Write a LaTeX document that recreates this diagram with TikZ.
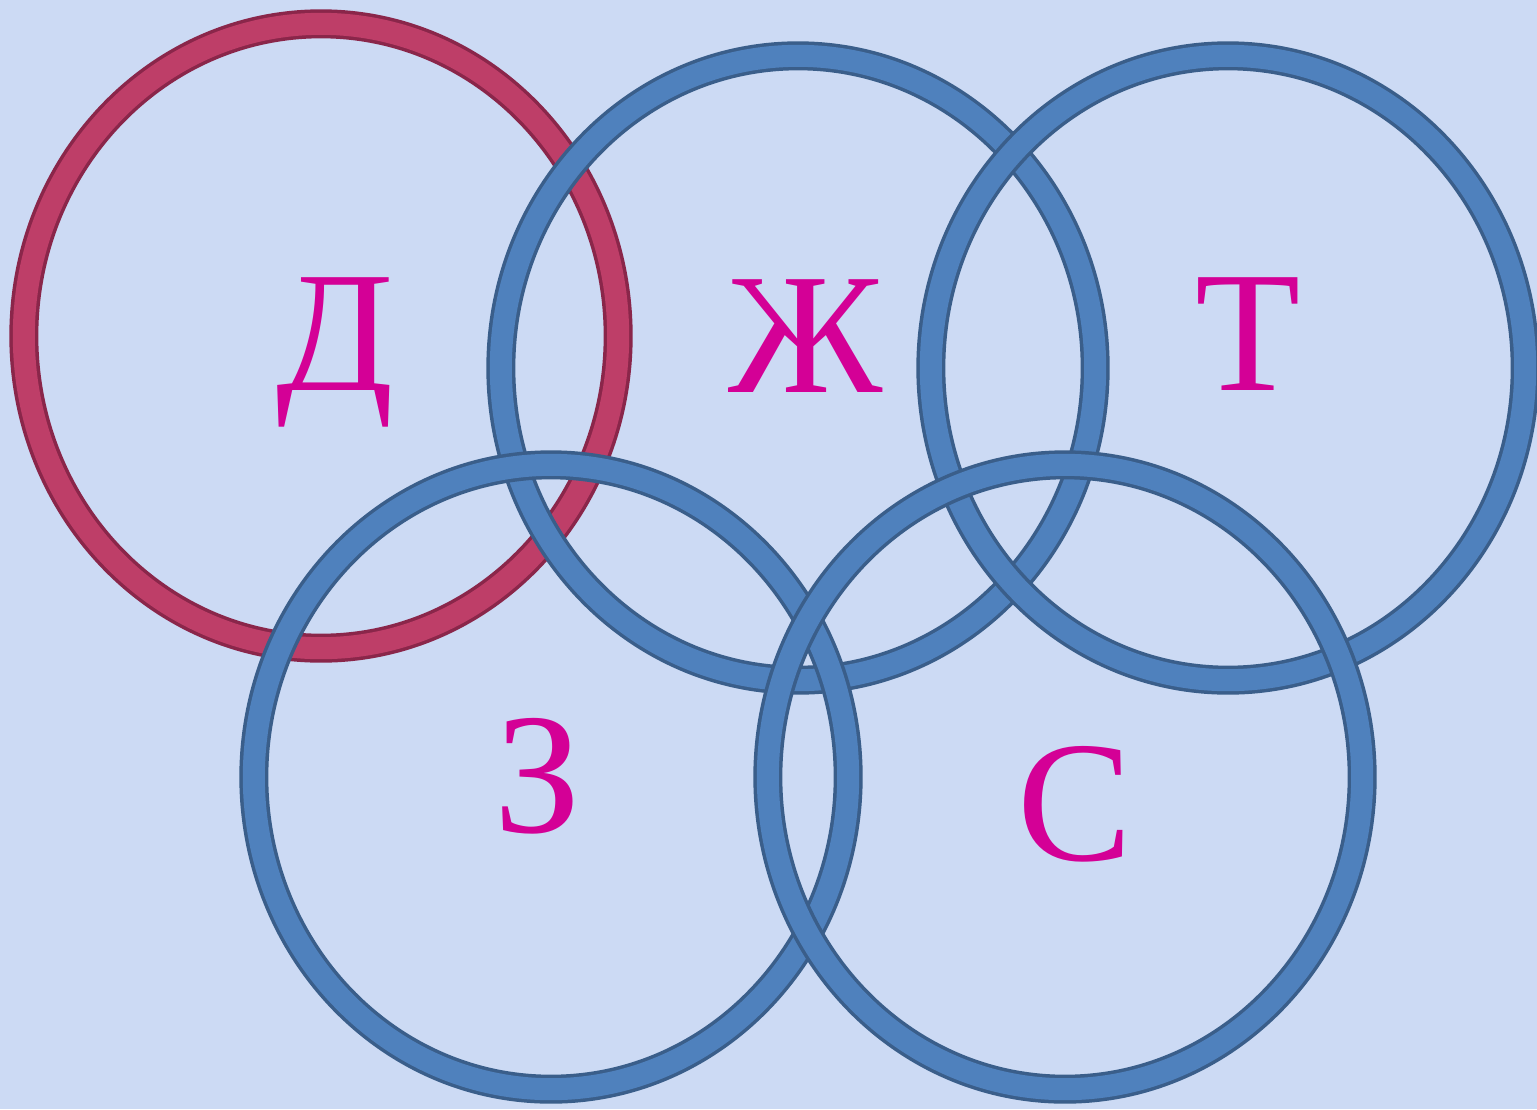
\documentclass[tikz,border=0pt]{standalone}
\usepackage{fontspec}
\setmainfont{Liberation Serif}
\usetikzlibrary{positioning, shapes.geometric}

\definecolor{bgblue}{RGB}{204,218,244}
\definecolor{ringblue}{RGB}{79,129,189}
\definecolor{ringblueedge}{RGB}{58,94,138}
\definecolor{ringred}{RGB}{190,62,104}
\definecolor{ringrededge}{RGB}{138,38,74}
\definecolor{lettermag}{RGB}{212,0,150}

\begin{document}
\begin{tikzpicture}[x=0.01cm, y=-0.01cm]
	
	% 样式
	\tikzset{
		ring/.style = {
			ellipse, inner sep=0pt,
			minimum width = \ringW, minimum height = \ringH,
			draw = ringblueedge, line width = 0.035cm,
			double = ringblue, double distance = 0.22cm
		},
		redring/.style = {
			ring, draw = ringrededge, double = ringred
		},
		letter/.style = {
			anchor = base, text = lettermag,
			font = \fontsize{49}{49}\selectfont
		}
	}
	
	% 尺寸
	\def \ringW {5.94cm}
	\def \ringH {6.24cm}
	
	% 背景
	\fill[bgblue] (0,0) rectangle (1537,1109);
	\useasboundingbox (0,0) rectangle (1537,1109);
	
	% 圆环 (先画的在下面)
	\node[redring] (ringD) at (321,336) {};
	\node[ring] (ringZh) at (798,368) {};
	\node[ring] (ringT) at (1228,368) {};
	\node[ring] (ringZ) at (551,777) {};
	\node[ring] (ringS) at (1065,777) {};
	
	% 字母
	\node[letter] (letD) at (335,390) {Д};
	\node[letter] (letZh) at (806,392) {Ж};
	\node[letter] (letT) at (1248,390) {Т};
	\node[letter] (letZ) at (538,832) {З};
	\node[letter] (letS) at (1075,860) {С};
	
\end{tikzpicture}
\end{document}
